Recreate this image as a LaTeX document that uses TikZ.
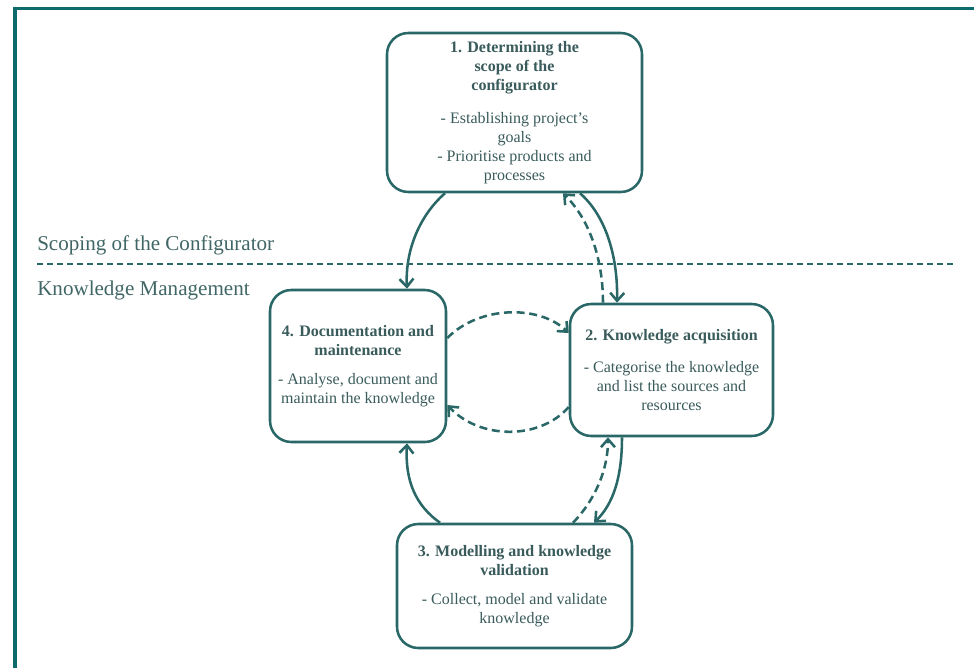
\documentclass[tikz,border=0pt]{standalone}
\usepackage{fontspec}
\setmainfont{Liberation Serif}
\usetikzlibrary{arrows.meta,calc}

\definecolor{framecol}{HTML}{0D6B6D}
\definecolor{boxcol}{HTML}{2A6767}
\definecolor{txtcol}{HTML}{3A5B5B}
\definecolor{labcol}{HTML}{416666}

\tikzset{
  stagebox/.style={draw=boxcol, line width=1.9pt, rounded corners=16pt,
    fill=white, inner sep=0pt, align=center, text=txtcol,
    font=\fontsize{12}{14.2}\selectfont},
  flow/.style={draw=boxcol, line width=1.9pt,
    -{Straight Barb[length=6pt,width=10.5pt]}},
  backflow/.style={flow, dash pattern=on 6pt off 3.5pt},
  phase/.style={anchor=base west, text=labcol, inner sep=0pt,
    font=\fontsize{15.8}{18}\selectfont},
}

\begin{document}
\begin{tikzpicture}[x=0.75pt,y=-0.75pt]
\useasboundingbox (0,0) rectangle (974,668);

% outer frame (top and left edges)
\draw[framecol, line width=2.5pt] (15,668) -- (15,8.5) -- (974,8.5);

% phase separator and labels
\draw[boxcol, line width=1.5pt, dash pattern=on 4.5pt off 3pt] (37,264) -- (955,264);
\node[phase] (scoping) at (37,250) {Scoping of the Configurator};
\node[phase] (km) at (37,295) {Knowledge Management};

% stages
\node[stagebox, minimum width=191.25pt, minimum height=119.25pt] (b1) at (514.5,112.5)
  {\textbf{1. Determining the}\\ \textbf{scope of the}\\ \textbf{configurator}\\[11pt]
   - Establishing project's\\ goals\\ - Prioritise products and\\ processes};
\node[stagebox, minimum width=132pt, minimum height=114pt] (b4) at (358,366)
  {\textbf{4. Documentation and}\\ \textbf{maintenance}\\[8pt]
   - Analyse, document and\\ maintain the knowledge};
\node[stagebox, minimum width=152.25pt, minimum height=99pt] (b2) at (671.5,370)
  {\textbf{2. Knowledge acquisition}\\[10pt]
   - Categorise the knowledge\\ and list the sources and\\ resources};
\node[stagebox, minimum width=176.25pt, minimum height=93pt] (b3) at (514.5,586)
  {\textbf{3. Modelling and knowledge}\\ \textbf{validation}\\[8pt]
   - Collect, model and validate\\ knowledge};

% forward flow
\draw[flow] ($(b1.south)+(-69.5,0)$) .. controls (420,215) and (405,250) .. ($(b4.north)+(49,0)$);
\draw[flow] ($(b1.south)+(65.5,0)$) .. controls (605,215) and (618,255) .. ($(b2.north)+(-54.5,0)$);
\draw[flow] ($(b2.south)+(-49.5,0)$) .. controls (622,480) and (612,505) .. ($(b3.north)+(79.5,0)$);
\draw[flow] ($(b3.north)+(-74.5,0)$) .. controls (415,505) and (405,480) .. ($(b4.south)+(49,0)$);

% feedback
\draw[backflow] ($(b2.north)+(-68.5,0)$) .. controls (603,260) and (590,220) .. ($(b1.south)+(48.5,0)$);
\draw[backflow] ($(b4.east)+(0,-28)$) .. controls (480,305) and (540,305) .. ($(b2.west)+(0,-37)$);
\draw[backflow] ($(b2.west)+(0,37)$) .. controls (540,440) and (480,440) .. ($(b4.east)+(0,39)$);
\draw[backflow] ($(b3.north)+(58.5,0)$) .. controls (595,500) and (608,470) .. ($(b2.south)+(-63.5,0)$);
\end{tikzpicture}
\end{document}
